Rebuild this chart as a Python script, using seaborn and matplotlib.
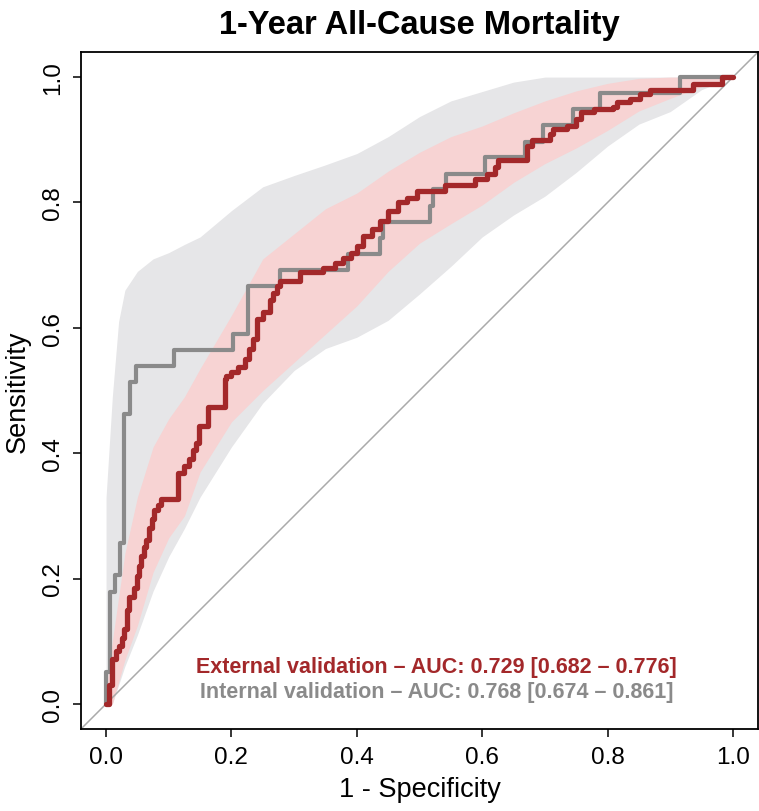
import matplotlib
matplotlib.use("Agg")
import matplotlib.pyplot as plt
import numpy as np
import pandas as pd
import seaborn as sns

# ROC staircase corners (1 - specificity, sensitivity)
ext_fpr = [0.0, 0.005, 0.010, 0.016, 0.021, 0.025, 0.029, 0.033, 0.037, 0.045, 0.050,
           0.053, 0.056, 0.060, 0.064, 0.069, 0.074, 0.077, 0.083, 0.088, 0.114, 0.124,
           0.133, 0.139, 0.144, 0.149, 0.162, 0.189, 0.192, 0.200, 0.210, 0.221, 0.228,
           0.234, 0.240, 0.250, 0.261, 0.267, 0.272, 0.277, 0.309, 0.346, 0.365, 0.378,
           0.390, 0.400, 0.410, 0.424, 0.437, 0.450, 0.466, 0.480, 0.496, 0.540, 0.589,
           0.607, 0.621, 0.626, 0.671, 0.680, 0.708, 0.713, 0.735, 0.749, 0.757, 0.778,
           0.809, 0.815, 0.836, 0.852, 0.868, 0.937, 0.983, 1.0]
ext_tpr = [0.0, 0.030, 0.071, 0.085, 0.092, 0.105, 0.119, 0.150, 0.170, 0.185, 0.204,
           0.220, 0.236, 0.250, 0.262, 0.280, 0.295, 0.310, 0.318, 0.327, 0.369, 0.380,
           0.390, 0.405, 0.417, 0.443, 0.473, 0.518, 0.523, 0.530, 0.537, 0.550, 0.566,
           0.582, 0.614, 0.625, 0.645, 0.655, 0.667, 0.674, 0.689, 0.696, 0.704, 0.712,
           0.720, 0.731, 0.746, 0.757, 0.770, 0.786, 0.800, 0.807, 0.818, 0.828, 0.837,
           0.845, 0.856, 0.867, 0.890, 0.900, 0.909, 0.917, 0.922, 0.933, 0.944, 0.949,
           0.952, 0.960, 0.965, 0.973, 0.979, 0.989, 1.0, 1.0]

int_fpr = [0.0, 0.0, 0.006, 0.015, 0.022, 0.029, 0.038, 0.048, 0.109, 0.202, 0.227,
           0.277, 0.386, 0.437, 0.442, 0.517, 0.522, 0.543, 0.605, 0.668, 0.697, 0.745,
           0.788, 0.916, 1.0]
int_tpr = [0.0, 0.051, 0.179, 0.205, 0.256, 0.462, 0.513, 0.539, 0.564, 0.590, 0.667,
           0.692, 0.718, 0.744, 0.769, 0.795, 0.821, 0.846, 0.872, 0.897, 0.923, 0.949,
           0.974, 1.0, 1.0]

# confidence bands of sensitivity along 1 - specificity
band_x = [0.0, 0.01, 0.02, 0.03, 0.05, 0.075, 0.1, 0.125, 0.15, 0.2, 0.25, 0.3, 0.35,
          0.4, 0.45, 0.5, 0.55, 0.6, 0.65, 0.7, 0.75, 0.8, 0.85, 0.9, 0.95, 1.0]
ext_lo = [0.0, 0.0, 0.035, 0.07, 0.125, 0.21, 0.265, 0.30, 0.37, 0.45, 0.50, 0.545, 0.59,
          0.635, 0.69, 0.735, 0.766, 0.796, 0.832, 0.862, 0.887, 0.915, 0.946, 0.966,
          0.985, 1.0]
ext_hi = [0.02, 0.10, 0.17, 0.24, 0.33, 0.41, 0.455, 0.49, 0.535, 0.62, 0.71, 0.75, 0.79,
          0.815, 0.85, 0.88, 0.905, 0.922, 0.943, 0.962, 0.978, 0.99, 0.998, 1.0, 1.0, 1.0]
int_lo = [0.0, 0.0, 0.03, 0.06, 0.11, 0.18, 0.235, 0.28, 0.33, 0.41, 0.48, 0.532, 0.567,
          0.585, 0.612, 0.654, 0.698, 0.745, 0.78, 0.81, 0.848, 0.89, 0.925, 0.945,
          0.98, 1.0]
int_hi = [0.33, 0.49, 0.61, 0.66, 0.69, 0.71, 0.72, 0.733, 0.745, 0.787, 0.825, 0.843,
          0.86, 0.878, 0.905, 0.937, 0.962, 0.977, 0.992, 1.0, 1.0, 1.0, 1.0, 1.0, 1.0, 1.0]

ext_label = "External validation \u2013 AUC: 0.729 [0.682 \u2013 0.776]"
int_label = "Internal validation \u2013 AUC: 0.768 [0.674 \u2013 0.861]"

RED = "#A3282A"
GREY = "#8A8A8A"

sns.set_style("ticks")
plt.rcParams["font.family"] = ["Liberation Sans", "DejaVu Sans"]
plt.rcParams["text.color"] = "black"
plt.rcParams["axes.labelcolor"] = "black"
plt.rcParams["xtick.color"] = "black"
plt.rcParams["ytick.color"] = "black"

fig = plt.figure(figsize=(7.59, 8.12), dpi=100)
ax = fig.add_axes([0.1067, 0.101, 0.892, 0.8337])

ax.fill_between(band_x, int_lo, int_hi, color="#E6E6E8", lw=0)
ax.fill_between(band_x, ext_lo, ext_hi, color="#F7D3D3", lw=0)
ax.axline((0, 0), (1, 1), color="#AAAAAA", lw=1.1)

ext_df = pd.DataFrame({"fpr": ext_fpr, "tpr": ext_tpr})
int_df = pd.DataFrame({"fpr": int_fpr, "tpr": int_tpr})
sns.lineplot(data=int_df, x="fpr", y="tpr", ax=ax, color=GREY, lw=3.0,
             estimator=None, sort=False, drawstyle="steps-post")
sns.lineplot(data=ext_df, x="fpr", y="tpr", ax=ax, color=RED, lw=3.8,
             estimator=None, sort=False, drawstyle="steps-post")

ax.text(0.527, 0.06, ext_label, color=RED, fontsize=15.5, fontweight="bold",
        ha="center", va="center")
ax.text(0.527, 0.02, int_label, color=GREY, fontsize=15.5, fontweight="bold",
        ha="center", va="center")

ax.set_xlim(-0.04, 1.04)
ax.set_ylim(-0.04, 1.04)
ticks = np.arange(0, 1.01, 0.2)
ax.set_xticks(ticks)
ax.set_yticks(ticks)
ax.set_xticklabels([f"{t:.1f}" for t in ticks])
ax.set_yticklabels([f"{t:.1f}" for t in ticks], rotation=90, va="center")
ax.tick_params(length=6, width=1.1, labelsize=17.5, pad=6)
for sp in ax.spines.values():
    sp.set_linewidth(1.3)
    sp.set_color("black")

ax.set_xlabel("1 - Specificity", fontsize=19.5, labelpad=6)
ax.set_ylabel("Sensitivity", fontsize=19.5, labelpad=8)
ax.set_title("1-Year All-Cause Mortality", fontsize=23.5, fontweight="bold", pad=14)

fig.savefig("out.png", dpi=100)
